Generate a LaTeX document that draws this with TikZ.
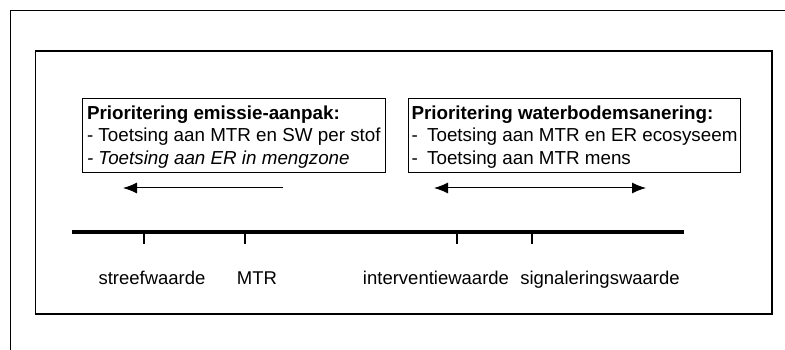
\documentclass[tikz,border=0pt]{standalone}
\usepackage{fontspec}
\setmainfont{Liberation Sans}
\usetikzlibrary{arrows.meta}
\begin{document}
\begin{tikzpicture}[x=1pt,y=-1pt,>={Latex[length=14pt,width=11pt]},
        kader/.style={draw,line width=1pt,anchor=north west,align=left,inner ysep=0pt,minimum height=74pt,
            text height=62.6pt,text depth=4pt,font=\fontsize{18.8}{22.8}\selectfont},
        waarde/.style={anchor=base,font=\fontsize{18.5}{22}\selectfont},
        pijl/.style={line width=1pt}]
                \useasboundingbox (0,0) rectangle (785,350);
                \draw[line width=1pt] (10.5,350) -- (10.5,10.3) -- (785,10.3);
                \draw[line width=1.6pt] (35.5,51) rectangle (772,314);
                % tekstkaders
                \node[kader,inner xsep=4.5pt] (emissie) at (82,98) {\textbf{Prioritering emissie-aanpak:}\\- Toetsing aan MTR en SW per stof\\\textit{- Toetsing aan ER in mengzone}};
                \node[kader,inner xsep=3pt] (sanering) at (408,98) {\textbf{Prioritering waterbodemsanering:}\\-\hspace{0.5em}Toetsing aan MTR en ER ecosyseem\\-\hspace{0.5em}Toetsing aan MTR mens};
                % pijlen
                \coordinate (e-start) at (283,188);
                \coordinate (e-eind) at (123,188);
                \coordinate (w-links) at (434,188);
                \coordinate (w-rechts) at (646,188);
                \draw[pijl,->] (e-start) -- (e-eind);
                \draw[pijl,<->] (w-links) -- (w-rechts);
                % schaal
                \coordinate (as-l) at (72,232);
                \coordinate (as-r) at (684,232);
                \draw[line width=4pt] (as-l) -- (as-r);
                \foreach \x in {144,245,457,532}
                    \draw[line width=1.6pt] (\x,232) -- (\x,244);
                \node[waarde] (sw) at (152,284) {streefwaarde};
                \node[waarde] (mtr) at (257,284) {MTR};
                \node[waarde] (iw) at (436,284) {interventiewaarde};
                \node[waarde] (sig) at (600,284) {signaleringswaarde};
            \end{tikzpicture}
\end{document}
